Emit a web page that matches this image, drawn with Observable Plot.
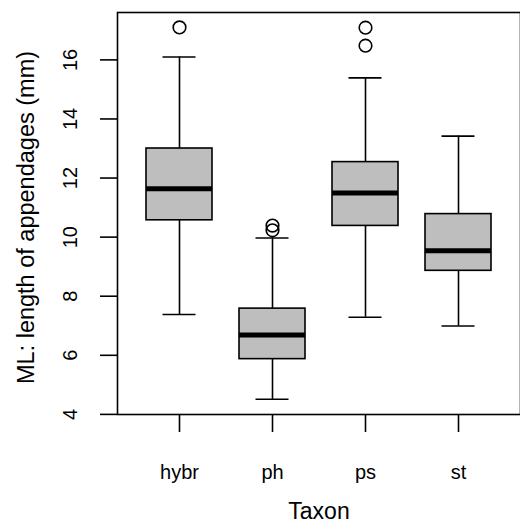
<!DOCTYPE html>
<html>
<head>
<meta charset="utf-8">
<script src="https://cdn.jsdelivr.net/npm/d3@7"></script>
<script src="https://cdn.jsdelivr.net/npm/@observablehq/plot@0.6"></script>
<style>
  html, body { margin: 0; padding: 0; background: #fff; }
  svg { display: block; }
</style>
</head>
<body>
<div id="chart"></div>
<script>
const taxa = ["hybr", "ph", "ps", "st"];
const lowerWhisker = [7.38, 4.51, 7.29, 6.99];
const q1 = [10.57, 5.87, 10.38, 8.86];
const medians = [11.64, 6.69, 11.49, 9.54];
const q3 = [13.0, 7.58, 12.54, 10.78];
const upperWhisker = [16.1, 9.97, 15.39, 13.42];
const outlierTaxon = ["hybr", "ph", "ph", "ps", "ps"];
const outlierValue = [17.1, 10.39, 10.23, 17.09, 16.48];
const yTicks = [4, 6, 8, 10, 12, 14, 16];
const xTitle = "Taxon";
const yTitle = "ML: length of appendages (mm)";

const boxes = taxa.map((t, i) => ({
  taxon: t, lo: lowerWhisker[i], q1: q1[i], med: medians[i], q3: q3[i], hi: upperWhisker[i]
}));
const outliers = outlierTaxon.map((t, i) => ({taxon: t, value: outlierValue[i]}));

const font = "'Liberation Sans', Arial, Helvetica, sans-serif";
const lw = 1.6;

const chart = Plot.plot({
  width: 520,
  height: 522,
  marginLeft: 117,
  marginRight: 0,
  marginTop: 12,
  marginBottom: 108,
  style: {fontFamily: font, color: "black", background: "white", overflow: "visible"},
  x: {type: "band", domain: taxa, paddingInner: 0.293, paddingOuter: 0.3065},
  y: {domain: [3.996, 17.604]},
  marks: [
    Plot.ruleX(boxes, {x: "taxon", y1: "lo", y2: "hi", stroke: "black", strokeWidth: lw}),
    Plot.tickY(boxes, {x: "taxon", y: "lo", stroke: "black", strokeWidth: lw, insetLeft: 16.5, insetRight: 16.5}),
    Plot.tickY(boxes, {x: "taxon", y: "hi", stroke: "black", strokeWidth: lw, insetLeft: 16.5, insetRight: 16.5}),
    Plot.barY(boxes, {x: "taxon", y1: "q1", y2: "q3", fill: "#bebebe", stroke: "black", strokeWidth: lw}),
    Plot.tickY(boxes, {x: "taxon", y: "med", stroke: "black", strokeWidth: 5}),
    Plot.dot(outliers, {x: "taxon", y: "value", r: 6.3, fill: "none", stroke: "black", strokeWidth: lw}),
    Plot.frame({stroke: "black", strokeWidth: lw}),
    Plot.axisY({ticks: yTicks, tickFormat: d => String(d), tickSize: 17, tickPadding: 24, tickRotate: -90,
      fontSize: 20, strokeWidth: lw, label: null}),
    Plot.axisX({tickSize: 18, tickPadding: 32, fontSize: 20, strokeWidth: lw, label: null}),
    Plot.text([xTitle], {frameAnchor: "bottom", dy: 104, fontSize: 23, fill: "black"}),
    Plot.text([yTitle], {frameAnchor: "left", textAnchor: "middle", dx: -91, dy: 4, rotate: -90, fontSize: 23.5, fill: "black"})
  ]
});
document.getElementById("chart").appendChild(chart);
</script>
</body>
</html>
